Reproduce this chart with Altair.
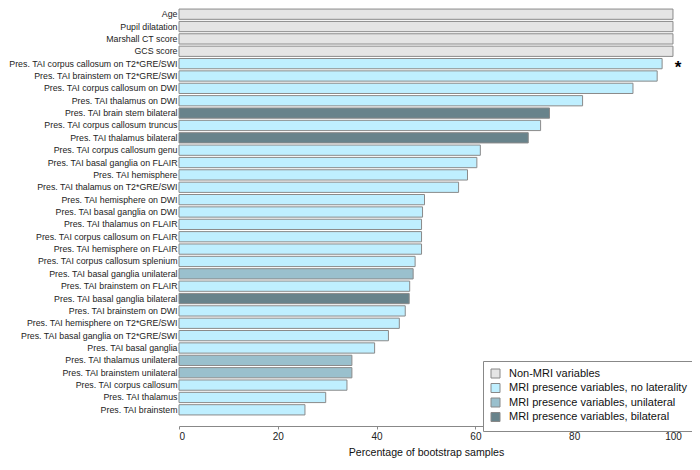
import altair as alt
import pandas as pd

names = [
    "Age", "Pupil dilatation", "Marshall CT score", "GCS score",
    "Pres. TAI corpus callosum on T2*GRE/SWI",
    "Pres. TAI brainstem on T2*GRE/SWI",
    "Pres. TAI corpus callosum on DWI",
    "Pres. TAI thalamus on DWI",
    "Pres. TAI brain stem bilateral",
    "Pres. TAI corpus callosum truncus",
    "Pres. TAI thalamus bilateral",
    "Pres. TAI corpus callosum genu",
    "Pres. TAI basal ganglia on FLAIR",
    "Pres. TAI hemisphere",
    "Pres. TAI thalamus on T2*GRE/SWI",
    "Pres. TAI hemisphere on DWI",
    "Pres. TAI basal ganglia on DWI",
    "Pres. TAI thalamus on FLAIR",
    "Pres. TAI corpus callosum on FLAIR",
    "Pres. TAI hemisphere on FLAIR",
    "Pres. TAI corpus callosum splenium",
    "Pres. TAI basal ganglia unilateral",
    "Pres. TAI brainstem on FLAIR",
    "Pres. TAI basal ganglia bilateral",
    "Pres. TAI brainstem on DWI",
    "Pres. TAI hemisphere on T2*GRE/SWI",
    "Pres. TAI basal ganglia on T2*GRE/SWI",
    "Pres. TAI basal ganglia",
    "Pres. TAI thalamus unilateral",
    "Pres. TAI brainstem unilateral",
    "Pres. TAI corpus callosum",
    "Pres. TAI thalamus",
    "Pres. TAI brainstem",
]

values = [100, 100, 100, 100, 97.8, 96.8, 91.9, 81.7, 75.0, 73.2, 70.7, 61.0,
          60.3, 58.4, 56.6, 49.7, 49.3, 49.1, 49.1, 49.1, 47.8, 47.4, 46.7,
          46.6, 45.8, 44.6, 42.4, 39.6, 35.0, 35.0, 34.0, 29.7, 25.5]

NM = "Non-MRI variables"
NL = "MRI presence variables, no laterality"
UL = "MRI presence variables, unilateral"
BL = "MRI presence variables, bilateral"

groups = [NM, NM, NM, NM, NL, NL, NL, NL, BL, NL, BL, NL, NL, NL, NL, NL, NL,
          NL, NL, NL, NL, UL, NL, BL, NL, NL, NL, NL, UL, UL, NL, NL, NL]

group_order = [NM, NL, UL, BL]
group_colors = ["#E5E5E5", "#BFEFFF", "#9AC0CD", "#68838B"]

x_ticks = [0, 20, 40, 60, 80, 100]

star_names = ["Pres. TAI corpus callosum on T2*GRE/SWI"]
star_x = [100]

df = pd.DataFrame({"name": names, "value": values, "group": groups})
star_df = pd.DataFrame({"name": star_names, "x": star_x, "t": ["*"]})

FONT = "Liberation Sans"

yscale = alt.Scale(range=[0, 408], paddingInner=0.17, paddingOuter=0.085)

bars = alt.Chart(df).mark_bar(stroke="#8a8a8a", strokeWidth=1).encode(
    x=alt.X(
        "value:Q",
        scale=alt.Scale(domain=[0, 103.85], nice=False),
        axis=alt.Axis(
            values=x_ticks, title="Percentage of bootstrap samples",
            grid=False, domainColor="#888888", tickColor="#888888",
            tickSize=3, labelFontSize=10, labelPadding=2, labelColor="#222222",
            titleFontSize=10.6, titleFontWeight="normal", titleColor="#111111",
            titleX=247, titleY=29, titleAlign="center",
            titleBaseline="alphabetic",
            labelFont=FONT, titleFont=FONT,
        ),
    ),
    y=alt.Y(
        "name:N", sort=names, scale=yscale,
        axis=alt.Axis(
            title=None, domain=False, ticks=False, labelPadding=2,
            labelFontSize=8.8, labelColor="#222222", labelLimit=0,
            labelFont=FONT,
        ),
    ),
    color=alt.Color(
        "group:N",
        scale=alt.Scale(domain=group_order, range=group_colors),
        legend=alt.Legend(
            title=None, orient="none", legendX=304, legendY=353,
            strokeColor="#888888", fillColor="white", padding=7,
            symbolType="square", symbolSize=81, symbolStrokeColor="#888888",
            symbolStrokeWidth=1, symbolOpacity=1, labelFontSize=11,
            labelFont=FONT, labelColor="#111111", labelOffset=8,
            rowPadding=1.5, labelLimit=0,
        ),
    ),
)

star = alt.Chart(star_df).mark_text(
    text="*", fontSize=17, fontWeight="bold", dx=5, dy=4, align="center",
    baseline="middle", font=FONT, color="black",
).encode(
    x=alt.X("x:Q"),
    y=alt.Y("name:N", sort=names, scale=yscale),
)

chart = alt.layer(bars, star).properties(
    width=513, height=418,
    autosize=alt.AutoSizeParams(type="none"),
    padding={"left": 171, "top": 0, "right": 0, "bottom": 32},
).configure_view(stroke=None)

chart.save("out.html", embed_options={"renderer": "svg", "actions": False})
